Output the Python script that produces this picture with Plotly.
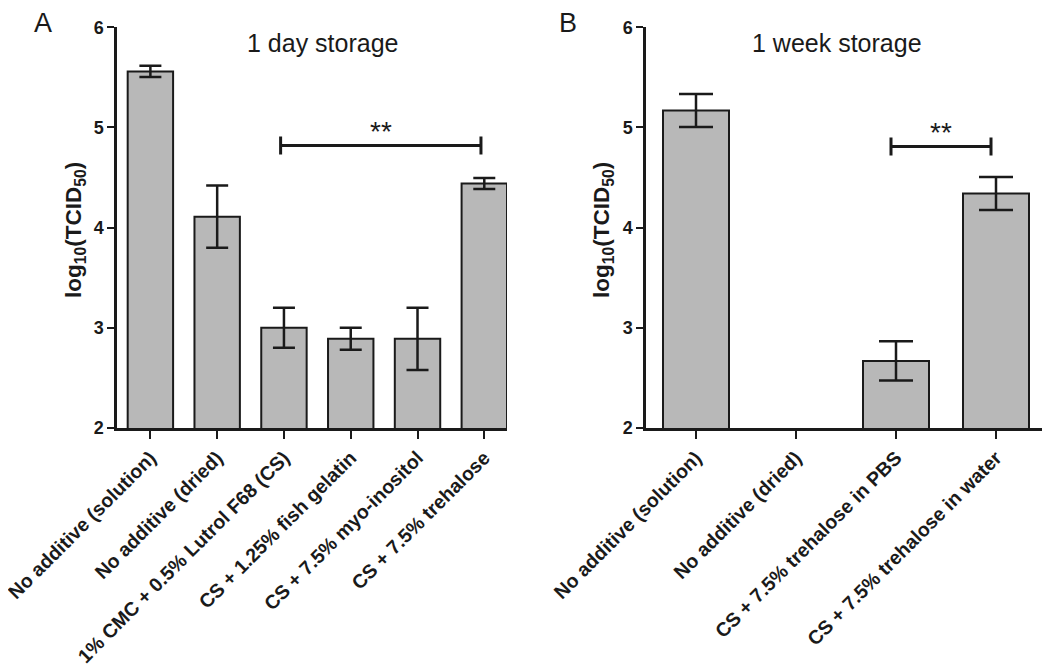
import plotly.graph_objects as go

# ---------------- data ----------------
cats_a = ["No additive (solution)", "No additive (dried)", "1% CMC + 0.5% Lutrol F68 (CS)",
          "CS + 1.25% fish gelatin", "CS + 7.5% myo-inositol", "CS + 7.5% trehalose"]
vals_a = [5.56, 4.11, 3.00, 2.89, 2.89, 4.44]
err_a = [0.055, 0.31, 0.20, 0.11, 0.31, 0.055]

cats_b = ["No additive (solution)", "No additive (dried)", "CS + 7.5% trehalose in PBS",
          "CS + 7.5% trehalose in water"]
vals_b = [5.17, None, 2.67, 4.34]
err_b = [0.165, None, 0.195, 0.165]

yticks = [2, 3, 4, 5, 6]
sig_a = (2, 5, 4.82)   # from idx, to idx, level
sig_b = (2, 3, 4.81)

FONT = "Liberation Sans"
DARK = "#1a1a1a"
GRAY = "#b8b8b8"

fig = go.Figure()
fig.add_trace(go.Bar(x=list(range(len(cats_a))), y=vals_a, xaxis="x", yaxis="y",
                     marker=dict(color=GRAY, line=dict(color=DARK, width=2)),
                     error_y=dict(type="data", array=err_a, visible=True, color=DARK,
                                  thickness=2.5, width=11),
                     width=0.68, showlegend=False))
fig.add_trace(go.Bar(x=list(range(len(cats_b))), y=vals_b, xaxis="x2", yaxis="y2",
                     marker=dict(color=GRAY, line=dict(color=DARK, width=2)),
                     error_y=dict(type="data", array=err_b, visible=True, color=DARK,
                                  thickness=2.5, width=17),
                     width=0.66, showlegend=False))

W, H = 1050, 666
OX, OY = 8, 8   # page offset


def px(x):
    return (x - OX) / W


def py(y):
    return 1 - (y - OY) / H


ydom = [py(428), py(27.3)]

xcommon = dict(showline=True, linewidth=2.5, linecolor=DARK, ticks="outside", ticklen=8,
               tickwidth=2, tickcolor=DARK, tickangle=-45, showgrid=False, zeroline=False,
               automargin=False, ticklabeloverflow="allow",
               tickfont=dict(family=FONT, size=19.5, color=DARK, weight="bold"))
ycommon = dict(showline=True, linewidth=2.5, linecolor=DARK, ticks="outside", ticklen=7,
               tickwidth=2, tickcolor=DARK, range=[2, 6], tickvals=yticks, showgrid=False,
               zeroline=False, domain=ydom, automargin=False, ticklabeloverflow="allow",
               tickfont=dict(family=FONT, size=18, color=DARK, weight="bold"))

fig.update_layout(
    width=W, height=H, margin=dict(l=0, r=0, t=0, b=0, autoexpand=False),
    plot_bgcolor="white", paper_bgcolor="white",
    xaxis=dict(**xcommon, domain=[px(117), px(507)], range=[-0.5, 5.34],
               tickvals=list(range(len(cats_a))), ticktext=cats_a, anchor="y"),
    yaxis=dict(**ycommon, anchor="x"),
    xaxis2=dict(**xcommon, domain=[px(646), min(1.0, px(1046))], range=[-0.5, 3.5],
                tickvals=list(range(len(cats_b))), ticktext=cats_b, anchor="y2"),
    yaxis2=dict(**ycommon, anchor="x2"),
)

shapes = []
anns = []
for (a, b, lvl), xr, yr in [(sig_a, "x", "y"), (sig_b, "x2", "y2")]:
    a0, b0 = a - 0.05, b - 0.05
    shapes.append(dict(type="line", xref=xr, yref=yr, x0=a0, x1=b0, y0=lvl, y1=lvl,
                       line=dict(color=DARK, width=3)))
    for xx in (a0, b0):
        shapes.append(dict(type="line", xref=xr, yref=yr, x0=xx, x1=xx, y0=lvl - 0.09,
                           y1=lvl + 0.09, line=dict(color=DARK, width=3)))
    anns.append(dict(xref=xr, yref=yr, x=(a0 + b0) / 2, y=lvl + 0.14, text="**",
                     showarrow=False, yanchor="middle", xanchor="center",
                     font=dict(family=FONT, size=28, color=DARK)))

anns += [
    dict(xref="x", yref="y", x=2.59, y=5.84, text="1 day storage", showarrow=False,
         xanchor="center", font=dict(family=FONT, size=25, color=DARK)),
    dict(xref="x2", yref="y2", x=1.41, y=5.84, text="1 week storage", showarrow=False,
         xanchor="center", font=dict(family=FONT, size=25, color=DARK)),
    dict(xref="paper", yref="paper", x=px(43), y=py(23), text="A", showarrow=False,
         xanchor="center", yanchor="middle", font=dict(family=FONT, size=27, color=DARK)),
    dict(xref="paper", yref="paper", x=px(568), y=py(23), text="B", showarrow=False,
         xanchor="center", yanchor="middle", font=dict(family=FONT, size=27, color=DARK)),
    dict(xref="paper", yref="paper", x=px(75), y=py(230), textangle=-90,
         xanchor="center", yanchor="middle",
         text="<b>log<sub>10</sub>(TCID<sub>50</sub>)</b>", showarrow=False,
         font=dict(family=FONT, size=22.5, color=DARK)),
    dict(xref="paper", yref="paper", x=px(525 + 78), y=py(230), textangle=-90,
         xanchor="center", yanchor="middle",
         text="<b>log<sub>10</sub>(TCID<sub>50</sub>)</b>", showarrow=False,
         font=dict(family=FONT, size=22.5, color=DARK)),
]
fig.update_layout(shapes=shapes, annotations=anns)

fig.write_html("out.html")
